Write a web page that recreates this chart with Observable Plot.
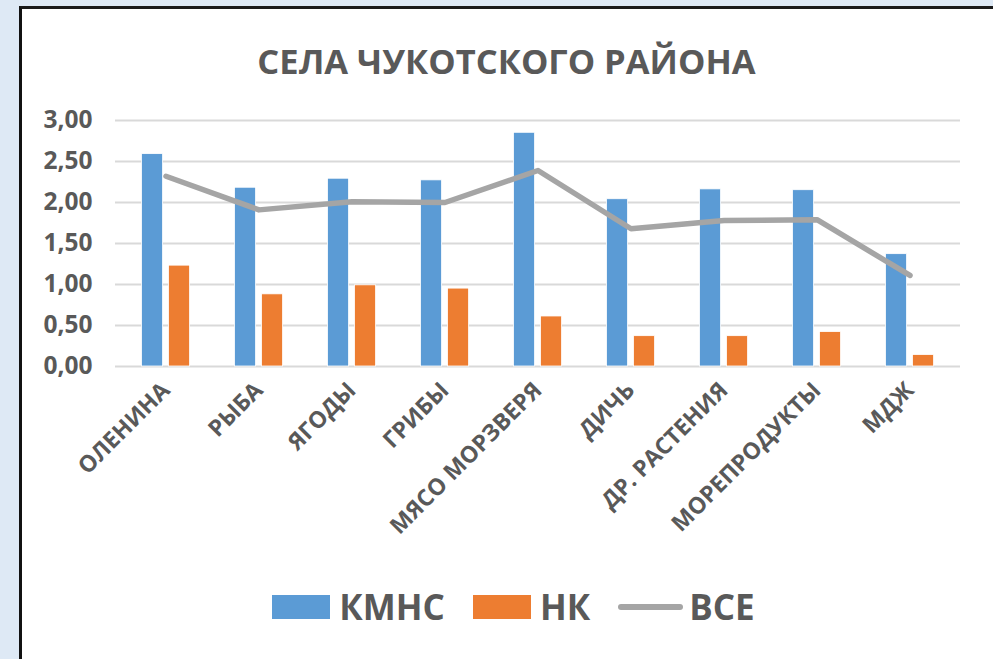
<!DOCTYPE html>
<html>
<head>
<meta charset="utf-8">
<script src="https://cdn.jsdelivr.net/npm/d3@7"></script>
<script src="https://cdn.jsdelivr.net/npm/@observablehq/plot@0.6"></script>
<style>
  html, body { margin: 0; padding: 0; }
  body { width: 993px; height: 659px; background: #dee9f5; position: relative; overflow: hidden; font-family: "Open Sans", sans-serif; }
  #box { position: absolute; left: 19px; top: 6px; width: 971px; height: 650px; background: #fff;
         border-left: 3px solid #111; border-top: 3px solid #1a1a1a; border-right: 1px solid #d9d9d9; border-bottom: 2px solid #d9d9d9; }
  #title { position: absolute; left: 22px; width: 969px; top: 37px; text-align: center; font-weight: 700; font-size: 34.5px; color: #595959; line-height: 48px; }
  #chart { position: absolute; left: 0; top: 0; }
  #legend { position: absolute; left: 29px; width: 969px; top: 583px; display: flex; justify-content: center; align-items: center; color: #595959; font-weight: 700; font-size: 35px; }
  .item { display: flex; align-items: center; margin: 0 14px; }
  .sw { width: 58px; height: 24px; margin-right: 9px; }
  .ln { width: 65px; height: 6px; border-radius: 3px; margin-right: 6px; }
</style>
</head>
<body>
<div id="box"></div>
<div id="title">СЕЛА ЧУКОТСКОГО РАЙОНА</div>
<div id="chart"></div>
<div id="legend"></div>
<script>
const categories = ["ОЛЕНИНА","РЫБА","ЯГОДЫ","ГРИБЫ","МЯСО МОРЗВЕРЯ","ДИЧЬ","ДР. РАСТЕНИЯ","МОРЕПРОДУКТЫ","МДЖ"];
const kmns = [2.59, 2.18, 2.29, 2.27, 2.85, 2.04, 2.16, 2.15, 1.37];
const nk   = [1.23, 0.88, 0.99, 0.95, 0.61, 0.37, 0.37, 0.42, 0.14];
const vse  = [2.32, 1.91, 2.01, 2.00, 2.39, 1.68, 1.78, 1.79, 1.11];
const seriesNames = ["КМНС", "НК", "ВСЕ"];
const seriesColors = ["#5b9bd5", "#ed7d31", "#a5a5a5"];
const yTicks = [0, 0.5, 1, 1.5, 2, 2.5, 3];

const rows = categories.map((c, i) => ({cat: c, kmns: kmns[i], nk: nk[i], vse: vse[i]}));

const plot = Plot.plot({
  width: 993,
  height: 560,
  marginLeft: 115,
  marginRight: 33,
  marginTop: 120,
  marginBottom: 194,
  style: {fontFamily: "'Open Sans', sans-serif", color: "#595959", background: "transparent", overflow: "visible"},
  x: {type: "band", domain: categories, padding: 0},
  y: {domain: [0, 3]},
  marks: [
    Plot.gridY(yTicks, {stroke: "#d9d9d9", strokeOpacity: 1, strokeWidth: 2}),
    Plot.barY(rows, {x: "cat", y: "kmns", fill: seriesColors[0], stroke: "#fff", strokeWidth: 0.8, insetLeft: 22.5, insetRight: 49.4}),
    Plot.barY(rows, {x: "cat", y: "nk", fill: seriesColors[1], stroke: "#fff", strokeWidth: 0.8, insetLeft: 49.5, insetRight: 22.4}),
    Plot.line(rows, {x: "cat", y: "vse", stroke: seriesColors[2], strokeWidth: 5.5, strokeLinejoin: "round", strokeLinecap: "round"}),
    Plot.axisY(yTicks, {tickSize: 0, tickPadding: 23, fontSize: 24.5, fontWeight: 700, fill: "#595959",
      tickFormat: d => d.toFixed(2).replace(".", ","), label: null}),
    Plot.axisX({tickSize: 0, tickPadding: 20, tickRotate: -45, fontSize: 23, fontWeight: 700, fill: "#595959", label: null})
  ]
});
document.getElementById("chart").appendChild(plot);

const legend = document.getElementById("legend");
seriesNames.forEach((name, i) => {
  const item = document.createElement("div");
  item.className = "item";
  const sw = document.createElement("div");
  sw.className = i === 2 ? "ln" : "sw";
  sw.style.background = seriesColors[i];
  const t = document.createElement("span");
  t.textContent = name;
  item.appendChild(sw);
  item.appendChild(t);
  legend.appendChild(item);
});
</script>
</body>
</html>
